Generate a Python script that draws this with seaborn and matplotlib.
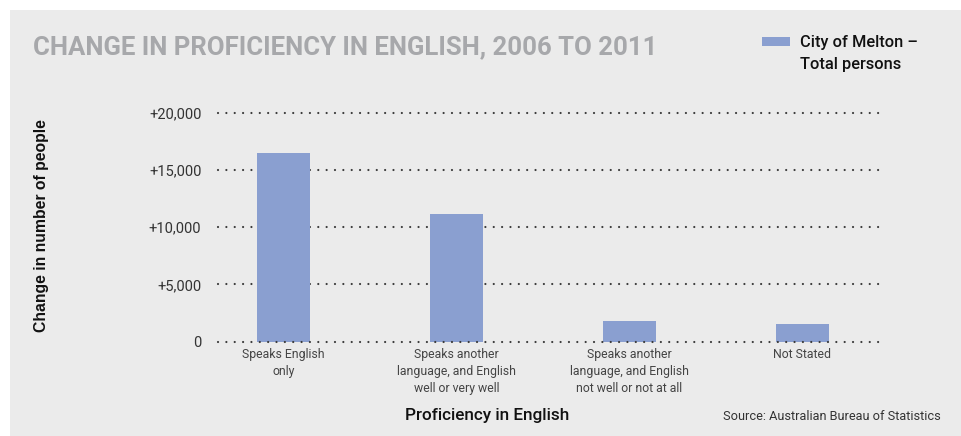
import numpy as np
import pandas as pd
import matplotlib
matplotlib.use("Agg")
import matplotlib.pyplot as plt
import seaborn as sns
from matplotlib.patches import Rectangle

categories = ["Speaks English\nonly",
              "Speaks another\nlanguage, and English\nwell or very well",
              "Speaks another\nlanguage, and English\nnot well or not at all",
              "Not Stated"]
change = [16500, 11150, 1800, 1530]
yticks = [0, 5000, 10000, 15000, 20000]
ytick_labels = ["0", "+5,000", "+10,000", "+15,000", "+20,000"]

bar_col = "#8a9fd0"
bg = "#ebebeb"

sns.set_style("white")
plt.rcParams['font.family'] = ['Roboto', 'DejaVu Sans']

df = pd.DataFrame({"cat": categories, "val": change})

fig = plt.figure(figsize=(9.62, 4.36), dpi=100)
fig.patch.set_facecolor("white")
fig.add_artist(Rectangle((10/962, 0), 1, 1 - 10/436, transform=fig.transFigure,
                         facecolor=bg, edgecolor="none", zorder=-10))

ax = fig.add_axes([218/962, 1 - 341.5/436, (882 - 218)/962, (341.5 - 113)/436])
ax.set_facecolor("none")

sns.barplot(data=df, x="cat", y="val", color=bar_col, width=0.306,
            saturation=1, ax=ax, zorder=3, edgecolor="none", linewidth=0)

ax.set_ylim(0, 20000)
ax.set_xlim(-0.38, 3.46)
ax.set_yticks(yticks)
ax.set_yticklabels(ytick_labels)
for y in yticks:
    ax.axhline(y, color="#3a3a3a", lw=1.6, linestyle=(0, (0.01, 3.75)),
               dash_capstyle="round", clip_on=False,
               zorder=4 if y == 0 else 1)

for s in ax.spines.values():
    s.set_visible(False)
ax.tick_params(axis="y", length=0, pad=12, labelsize=10.5, labelcolor="#333333")
ax.tick_params(axis="x", length=0, pad=5, labelsize=8.8, labelcolor="#444444")
for t in ax.get_xticklabels():
    t.set_linespacing(1.4)

ax.set_xlabel("")
ax.set_ylabel("")

fig.text(42/962, 1 - 226/436, "Change in number of people", rotation=90,
         ha="center", va="center", fontsize=11.3, fontweight="bold",
         family=["Liberation Sans"], color="#111111")
fig.text(487/962, 1 - 415/436, "Proficiency in English", ha="center", va="center",
         fontsize=12.3, fontweight="medium", color="#111111")
fig.text(941/962, 1 - 416/436, "Source: Australian Bureau of Statistics",
         ha="right", va="center", fontsize=9.2, color="#333333")

fig.text(33/962, 1 - 47/436, "CHANGE IN PROFICIENCY IN ENGLISH, 2006 TO 2011",
         ha="left", va="center", fontsize=18.5, fontweight="bold",
         color="#a7a8ab")

fig.add_artist(Rectangle((762/962, 1 - 46/436), 28/962, 9/436,
                         transform=fig.transFigure, facecolor=bar_col,
                         edgecolor="none"))
fig.text(800/962, 1 - 42/436, "City of Melton \u2013", ha="left", va="center",
         fontsize=11.8, fontweight="medium", color="#111111")
fig.text(800/962, 1 - 65/436, "Total persons", ha="left", va="center",
         fontsize=11.8, fontweight="medium", color="#111111")

fig.savefig("out.png", dpi=100)
